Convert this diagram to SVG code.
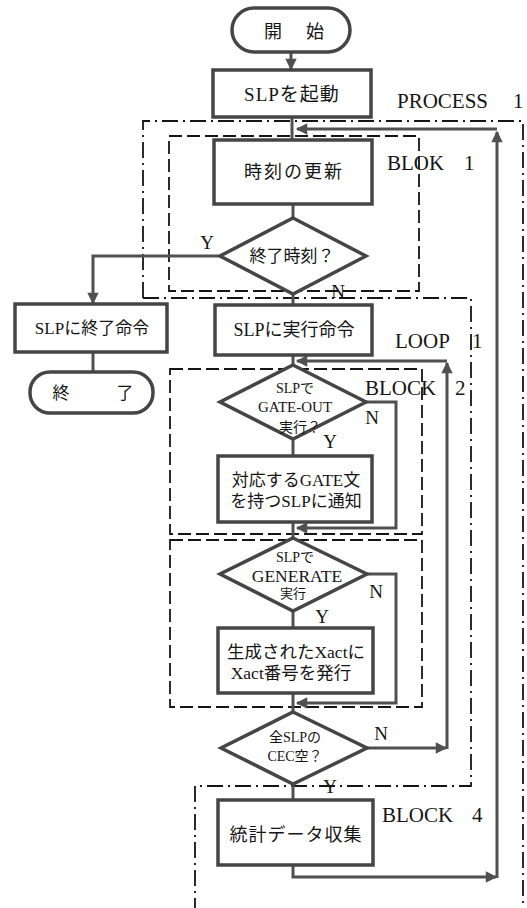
<svg xmlns="http://www.w3.org/2000/svg" width="527" height="908" viewBox="0 0 527 908">
<style>
.bg{fill:#fff}
.box{fill:#fff;stroke:#454545;stroke-width:3.5}
.ln{fill:none;stroke:#505050;stroke-width:3}
.arr{fill:none;stroke:#505050;stroke-width:3;marker-end:url(#ah)}
.dash{fill:none;stroke:#151515;stroke-width:1.8;stroke-dasharray:13 5}
.dd{fill:none;stroke:#151515;stroke-width:1.8;stroke-dasharray:16 5 2 5}
.t{font-family:"Liberation Serif","Noto Sans CJK JP",serif;fill:#151515;text-anchor:middle}
.l{font-family:"Liberation Serif",serif}
.lab{font-family:"Liberation Serif",serif;font-size:21px;fill:#151515}
.yn{font-family:"Liberation Serif",serif;font-size:19px;fill:#151515;text-anchor:middle}
</style>
<defs>
<marker id="ah" viewBox="0 0 10 10" refX="9" refY="5" markerWidth="4.2" markerHeight="3.8" orient="auto">
<path d="M0,0 L10,5 L0,10 z" fill="#505050"/>
</marker>
</defs>
<rect class="bg" x="0" y="0" width="527" height="908"/>

<g id="regions">
<path class="dd" d="M143,298 V121 H523 V908"/>
<path class="dd" d="M143,298 H471 V786 H195 V908"/>
<rect class="dash" x="169" y="136" width="250" height="155"/>
<rect class="dash" x="170" y="369" width="252" height="165"/>
<rect class="dash" x="170" y="540" width="252" height="167"/>
<text class="lab" x="397" y="108">PROCESS<tspan x="513">1</tspan></text>
<text class="lab" x="387" y="170">BLOK<tspan x="464">1</tspan></text>
<text class="lab" x="395" y="348">LOOP<tspan x="472">1</tspan></text>
<text class="lab" x="365" y="395">BLOCK<tspan x="455">2</tspan></text>
<text class="lab" x="382" y="822">BLOCK<tspan x="472">4</tspan></text>
</g>

<g id="connectors">
<path class="arr" d="M291,52 V69"/>
<path class="ln" d="M292,117 V140"/>
<path class="ln" d="M293,204 V218"/>
<path class="arr" d="M220,256 H93 V303"/>
<path class="ln" d="M93,352 V372"/>
<path class="ln" d="M293,294 V305"/>
<path class="ln" d="M293,355 V365"/>
<path class="ln" d="M293,439 V456"/>
<path class="ln" d="M293,522 V538"/>
<path class="ln" d="M293,611 V628"/>
<path class="ln" d="M293,693 V712"/>
<path class="ln" d="M293,784 V800"/>
<path class="arr" d="M366,402 H396 V528 H297"/>
<path class="arr" d="M367,574 H396 V703 H297"/>
<path class="arr" d="M367,748 H446"/>
<path class="arr" d="M447,749 V363"/>
<path class="arr" d="M447,361 H297"/>
<path class="arr" d="M293,865 V877 H496"/>
<path class="arr" d="M497,878 V132"/>
<path class="arr" d="M497,129 H297"/>
<text class="yn" x="207" y="249">Y</text>
<text class="yn" x="338" y="298">N</text>
<text class="yn" x="372" y="424">N</text>
<text class="yn" x="330" y="448">Y</text>
<text class="yn" x="376" y="598">N</text>
<text class="yn" x="322" y="623">Y</text>
<text class="yn" x="381" y="740">N</text>
<text class="yn" x="330" y="793">Y</text>
</g>

<g id="start">
<rect class="box" x="232" y="8" width="118" height="44" rx="22"/>
<text class="t" x="273 315" y="38" style="font-size:18px">開始</text>
</g>
<g id="launch">
<rect class="box" x="213" y="70" width="158" height="47"/>
<text class="t" x="292" y="101" style="font-size:19px" letter-spacing="1"><tspan class="l">SLP</tspan>を起動</text>
</g>
<g id="update">
<rect class="box" x="214" y="140" width="158" height="64"/>
<text class="t" x="294" y="178" style="font-size:18px" letter-spacing="2">時刻の更新</text>
</g>
<g id="endtime">
<polygon class="box" points="293,218 366,256 293,294 220,256"/>
<text class="t" x="292" y="262" style="font-size:17px">終了時刻？</text>
</g>
<g id="stopcmd">
<rect class="box" x="15" y="304" width="152" height="48"/>
<text class="t" x="92" y="334" style="font-size:17px"><tspan class="l">SLP</tspan>に終了命令</text>
</g>
<g id="end">
<rect class="box" x="30" y="372" width="123" height="41" rx="20"/>
<text class="t" x="61 125" y="399" style="font-size:17px">終了</text>
</g>
<g id="execcmd">
<rect class="box" x="215" y="305" width="157" height="50"/>
<text class="t" x="294" y="336" style="font-size:18px"><tspan class="l">SLP</tspan>に実行命令</text>
</g>
<g id="gateout">
<polygon class="box" points="293,365 366,402 293,439 220,402"/>
<text class="t" x="295" y="393" style="font-size:14px"><tspan class="l">SLP</tspan>で</text>
<text class="t l" x="295" y="412" style="font-size:15px">GATE-OUT</text>
<text class="t" x="300" y="432" style="font-size:14px">実行？</text>
</g>
<g id="notify">
<rect class="box" x="218" y="456" width="154" height="66"/>
<text class="t" x="296" y="486" style="font-size:17px">対応する<tspan class="l">GATE</tspan>文</text>
<text class="t" x="296" y="507" style="font-size:17px">を持つ<tspan class="l">SLP</tspan>に通知</text>
</g>
<g id="generate">
<polygon class="box" points="293,538 367,574 293,611 220,574"/>
<text class="t" x="295" y="562" style="font-size:14px"><tspan class="l">SLP</tspan>で</text>
<text class="t l" x="297" y="582" style="font-size:17.5px">GENERATE</text>
<text class="t" x="293" y="598" style="font-size:13px">実行</text>
</g>
<g id="issue">
<rect class="box" x="218" y="628" width="155" height="65"/>
<text class="t" x="296" y="658" style="font-size:17.5px">生成された<tspan class="l">Xact</tspan>に</text>
<text class="t" x="291" y="679" style="font-size:17.5px"><tspan class="l">Xact</tspan>番号を発行</text>
</g>
<g id="cecempty">
<polygon class="box" points="293,712 367,748 293,784 221,748"/>
<text class="t" x="295" y="742" style="font-size:14px">全<tspan class="l">SLP</tspan>の</text>
<text class="t" x="295" y="761" style="font-size:14px"><tspan class="l">CEC</tspan>空？</text>
</g>
<g id="stats">
<rect class="box" x="218" y="800" width="155" height="65"/>
<text class="t" x="296" y="841" style="font-size:18px" letter-spacing="1">統計データ収集</text>
</g>
</svg>
